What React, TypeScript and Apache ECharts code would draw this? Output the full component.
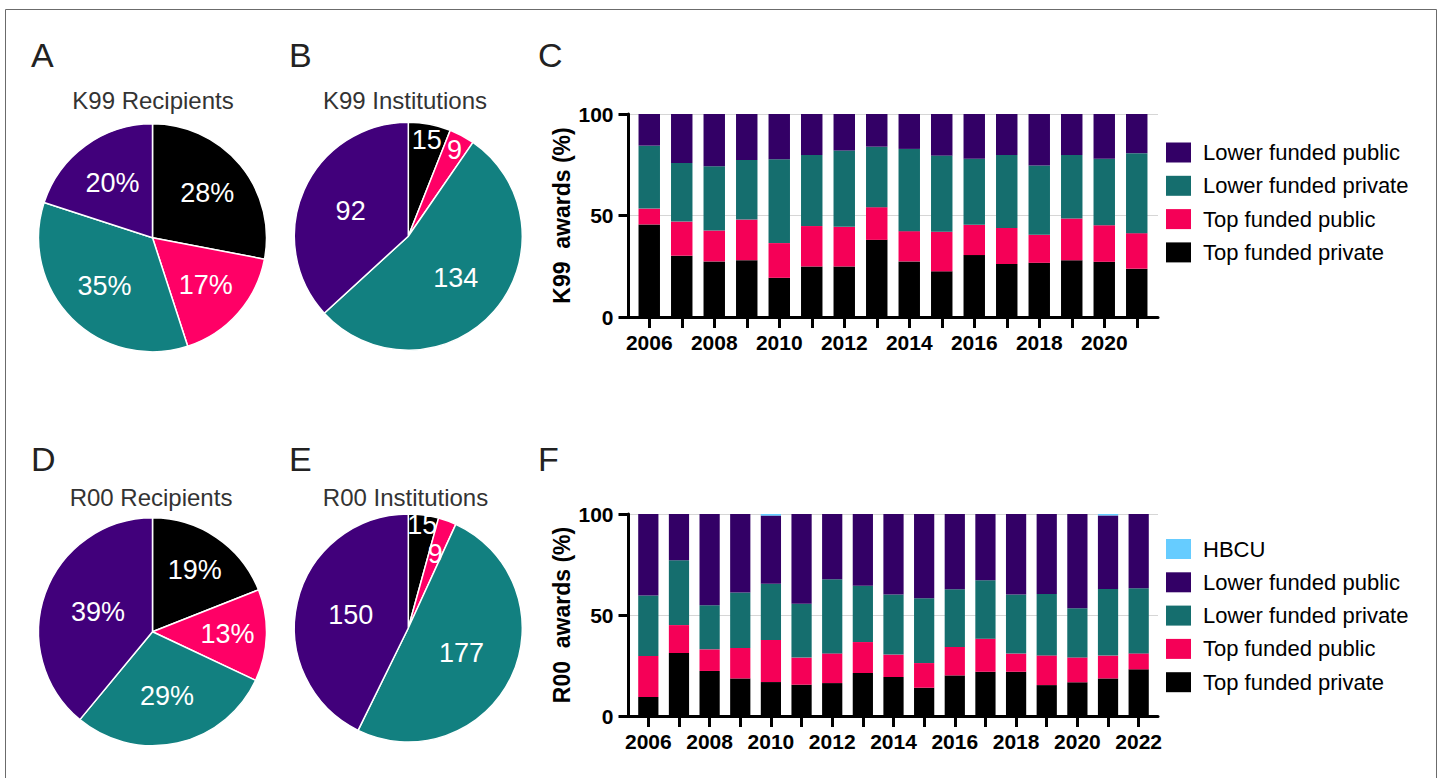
import React, { useEffect, useRef } from "react";
import * as echarts from "echarts";

const FONT = "'Liberation Sans', Arial, Helvetica, sans-serif";

// Categories (bottom of stack first)
const groupNames = ["Top funded private", "Top funded public", "Lower funded private", "Lower funded public"];
const hbcuName = "HBCU";

// Pie data (A, B, D, E) – same category order as groupNames
const k99RecipientsPct = [28, 17, 35, 20];
const k99Institutions = [15, 9, 134, 92];
const r00RecipientsPct = [19, 13, 29, 39];
const r00Institutions = [15, 9, 177, 150];

// Bar chart C (K99 awards, %)
const k99Years = ["2006", "2007", "2008", "2009", "2010", "2011", "2012", "2013", "2014", "2015", "2016", "2017", "2018", "2019", "2020", "2021"];
const k99TopPrivate = [45.6, 30.2, 27.4, 28.0, 19.3, 24.9, 24.9, 38.0, 27.4, 22.5, 30.5, 26.1, 26.7, 28.0, 27.2, 23.8];
const k99TopPublic = [7.8, 16.8, 15.2, 20.0, 17.1, 19.9, 19.5, 16.1, 14.9, 19.5, 14.9, 17.8, 13.8, 20.5, 18.0, 17.5];
const k99LowerPrivate = [31.0, 28.9, 31.7, 29.4, 41.3, 35.0, 37.6, 29.8, 40.5, 37.5, 32.5, 35.9, 34.1, 31.3, 32.8, 39.4];
const k99LowerPublic = [15.6, 24.1, 25.7, 22.6, 22.3, 20.2, 18.0, 16.1, 17.2, 20.5, 22.1, 20.2, 25.4, 20.2, 22.0, 19.3];

// Bar chart F (R00 awards, %)
const r00Years = ["2006", "2007", "2008", "2009", "2010", "2011", "2012", "2013", "2014", "2015", "2016", "2017", "2018", "2019", "2020", "2021", "2022"];
const r00TopPrivate = [9.4, 31.2, 22.3, 18.6, 16.8, 15.5, 16.3, 21.3, 19.3, 14.0, 20.1, 21.9, 21.9, 15.3, 16.7, 18.6, 23.1];
const r00TopPublic = [20.3, 13.8, 10.7, 15.1, 20.8, 13.4, 14.7, 15.3, 11.1, 12.2, 14.1, 16.4, 9.0, 14.7, 12.3, 11.3, 7.9];
const r00LowerPrivate = [30.0, 32.1, 21.8, 27.5, 27.9, 26.7, 36.7, 27.9, 29.8, 32.1, 28.5, 28.9, 29.3, 30.4, 24.3, 33.0, 32.2];
const r00LowerPublic = [40.3, 22.9, 45.2, 38.8, 33.7, 44.4, 32.3, 35.5, 39.8, 41.7, 37.3, 32.8, 39.8, 39.6, 46.7, 36.4, 36.8];
const r00Hbcu = [0, 0, 0, 0, 0.8, 0, 0, 0, 0, 0, 0, 0, 0, 0, 0, 0.7, 0];

const yTicks = [0, 50, 100];

const pieColors = ["#000000", "#ff0066", "#128080", "#41007b"];
const barColors = ["#000000", "#f50057", "#156e6e", "#330066"];
const hbcuColor = "#66ccff";

function mainPie(center: number[], values: number[]) {
  return {
    type: "pie",
    center,
    radius: 114,
    startAngle: 90,
    clockwise: true,
    silent: true,
    label: { show: false },
    labelLine: { show: false },
    itemStyle: { borderColor: "#ffffff", borderWidth: 1.5 },
    data: values.map((v, i) => ({ value: v, name: groupNames[i], itemStyle: { color: pieColors[i] } })),
    z: 2,
  };
}

function labelPie(center: number[], values: number[], labelRadius: number, shown: number[], suffix: string) {
  return {
    type: "pie",
    center,
    radius: labelRadius * 2,
    startAngle: 90,
    clockwise: true,
    silent: true,
    avoidLabelOverlap: false,
    labelLayout: { hideOverlap: false },
    labelLine: { show: false },
    itemStyle: { color: "rgba(0,0,0,0)", borderWidth: 0 },
    label: {
      show: true,
      position: "inside",
      color: "#ffffff",
      fontSize: 27,
      fontFamily: FONT,
      overflow: "none",
      formatter: (p: any) => `${p.value}${suffix}`,
    },
    data: values.map((v, i) => ({ value: v, name: groupNames[i], label: { show: shown.includes(i) } })),
    z: 4,
  };
}

function barSeries(name: string, data: number[], color: string, xi: number, yi: number, stack: string) {
  return {
    type: "bar",
    name,
    data,
    stack,
    xAxisIndex: xi,
    yAxisIndex: yi,
    barWidth: "66%",
    silent: true,
    itemStyle: { color },
    z: 2,
  };
}

function decorAxes(gridIndex: number, name: string) {
  const x = {
    gridIndex,
    type: "value",
    min: 0,
    max: 1,
    z: 10,
    axisLine: { show: true, onZero: false, lineStyle: { color: "#000", width: 3 } },
    axisTick: { show: false },
    axisLabel: { show: false },
    splitLine: { show: false },
  };
  const y = {
    gridIndex,
    type: "value",
    min: yTicks[0],
    max: yTicks[yTicks.length - 1],
    interval: 50,
    axisLine: { show: true, onZero: false, lineStyle: { color: "#000", width: 3 } },
    axisTick: { show: true, length: 10, lineStyle: { color: "#000", width: 3 } },
    axisLabel: { margin: 15, fontSize: 21, fontWeight: "bold", color: "#000", fontFamily: FONT },
    splitLine: { show: true, lineStyle: { color: "#d6d6d6", width: 1 } },
    name,
    nameLocation: "middle",
    nameRotate: 90,
    nameGap: 55,
    nameTextStyle: { fontSize: 23, fontWeight: "bold", color: "#000", fontFamily: FONT },
  };
  return { x, y };
}

function catAxes(gridIndex: number, years: string[]) {
  const x = {
    gridIndex,
    type: "category",
    data: years,
    axisLine: { show: false },
    axisTick: { show: true, alignWithLabel: true, interval: 0, length: 11, lineStyle: { color: "#000", width: 3 } },
    axisLabel: { interval: 1, margin: 15, fontSize: 21, fontWeight: "bold", color: "#000", fontFamily: FONT },
    splitLine: { show: false },
  };
  const y = { gridIndex, type: "value", min: 0, max: 100, show: false };
  return { x, y };
}

function legendFor(names: string[], top: number) {
  return {
    data: names,
    orient: "vertical",
    left: 1161,
    top,
    itemWidth: 25,
    itemHeight: 20,
    itemGap: 11.3,
    icon: "rect",
    selectedMode: false,
    textStyle: { fontSize: 22, color: "#000", fontFamily: FONT, lineHeight: 22, padding: [0, 0, 0, 7] },
  };
}

function txt(text: string, x: number, y: number, size: number, align: string, color: string) {
  return {
    type: "text",
    x,
    y,
    silent: true,
    style: { text, fill: color, fontSize: size, fontFamily: FONT, align, verticalAlign: "middle" },
  };
}

export default function App() {
  const ref = useRef<HTMLDivElement>(null);
  useEffect(() => {
    if (!ref.current) return;
    const chart = echarts.init(ref.current, null, { renderer: "svg" });

    const cDecor = decorAxes(0, "K99  awards (%)");
    const cCat = catAxes(1, k99Years);
    const fDecor = decorAxes(2, "R00  awards (%)");
    const fCat = catAxes(3, r00Years);

    const cA = [152.5, 237.8];
    const cB = [408.3, 236.2];
    const cD = [152.5, 631.8];
    const cE = [408.3, 628];

    const option: any = {
      animation: false,
      backgroundColor: "#ffffff",
      grid: [
        { left: 628.5, top: 114, width: 529.5, height: 203 },
        { left: 633, top: 114, width: 520, height: 203 },
        { left: 628.5, top: 514, width: 529.5, height: 202 },
        { left: 633, top: 514, width: 521, height: 202 },
      ],
      xAxis: [cDecor.x, cCat.x, fDecor.x, fCat.x],
      yAxis: [cDecor.y, cCat.y, fDecor.y, fCat.y],
      legend: [
        legendFor([groupNames[3], groupNames[2], groupNames[1], groupNames[0]], 136.5),
        legendFor([hbcuName, groupNames[3], groupNames[2], groupNames[1], groupNames[0]], 533),
      ],
      series: [
        barSeries(groupNames[0], k99TopPrivate, barColors[0], 1, 1, "k99"),
        barSeries(groupNames[1], k99TopPublic, barColors[1], 1, 1, "k99"),
        barSeries(groupNames[2], k99LowerPrivate, barColors[2], 1, 1, "k99"),
        barSeries(groupNames[3], k99LowerPublic, barColors[3], 1, 1, "k99"),
        barSeries(groupNames[0], r00TopPrivate, barColors[0], 3, 3, "r00"),
        barSeries(groupNames[1], r00TopPublic, barColors[1], 3, 3, "r00"),
        barSeries(groupNames[2], r00LowerPrivate, barColors[2], 3, 3, "r00"),
        barSeries(groupNames[3], r00LowerPublic, barColors[3], 3, 3, "r00"),
        barSeries(hbcuName, r00Hbcu, hbcuColor, 3, 3, "r00"),
        mainPie(cA, k99RecipientsPct),
        labelPie(cA, k99RecipientsPct, 68, [0, 1], "%"),
        labelPie(cA, k99RecipientsPct, 65, [2, 3], "%"),
        mainPie(cB, k99Institutions),
        labelPie(cB, k99Institutions, 95, [0, 1], ""),
        labelPie(cB, k99Institutions, 60, [2, 3], ""),
        mainPie(cD, r00RecipientsPct),
        labelPie(cD, r00RecipientsPct, 72, [0, 1], "%"),
        labelPie(cD, r00RecipientsPct, 63, [2], "%"),
        labelPie(cD, r00RecipientsPct, 55, [3], "%"),
        mainPie(cE, r00Institutions),
        labelPie(cE, r00Institutions, 101, [0], ""),
        labelPie(cE, r00Institutions, 76, [1], ""),
        labelPie(cE, r00Institutions, 56, [2, 3], ""),
      ],
      graphic: [
        {
          type: "polyline",
          silent: true,
          shape: { points: [[5.5, 778], [5.5, 9.5], [1436.5, 9.5], [1436.5, 778]] },
          style: { stroke: "#6b6b6b", lineWidth: 1, fill: null },
        },
        txt("A", 31, 55, 34, "left", "#222"),
        txt("B", 289, 55, 34, "left", "#222"),
        txt("C", 538, 55, 34, "left", "#222"),
        txt("D", 31, 459, 34, "left", "#222"),
        txt("E", 289, 459, 34, "left", "#222"),
        txt("F", 538, 459, 34, "left", "#222"),
        txt("K99 Recipients", 153, 100, 24, "center", "#333"),
        txt("K99 Institutions", 405, 100, 24, "center", "#333"),
        txt("R00 Recipients", 151, 497, 24, "center", "#333"),
        txt("R00 Institutions", 405.5, 497, 24, "center", "#333"),
      ],
    };
    chart.setOption(option);
    return () => chart.dispose();
  }, []);
  return <div ref={ref} style={{ position: "absolute", left: 0, top: 0, width: 1445, height: 778 }} />;
}
